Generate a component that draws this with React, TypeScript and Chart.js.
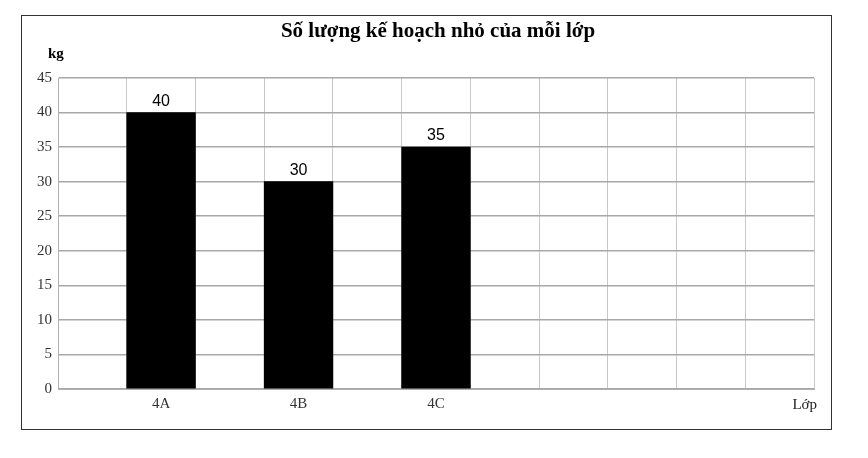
import React, { useEffect, useRef } from 'react';
import { Chart, registerables } from 'chart.js';

Chart.register(...registerables);

// Category slots along the x axis (the chart has empty slots between classes)
const slots: string[] = ['', '4A', '', '4B', '', '4C', '', '', '', '', ''];
const values: (number | null)[] = [null, 40, null, 30, null, 35, null, null, null, null, null];
const yMin = 0;
const yMax = 45;
const yStep = 5;
const chartTitle = 'Số lượng kế hoạch nhỏ của mỗi lớp';
const yUnit = 'kg';
const xUnit = 'Lớp';

const SERIF = '"Liberation Serif", "DejaVu Serif", serif';
const SANS = '"Liberation Sans", Arial, sans-serif';

const overlay = {
  id: 'overlay',
  afterDraw(chart: any) {
    const { ctx, chartArea } = chart;
    ctx.save();
    // title
    ctx.fillStyle = '#000';
    ctx.font = `bold 21px ${SERIF}`;
    ctx.textAlign = 'center';
    ctx.textBaseline = 'alphabetic';
    ctx.fillText(chartTitle, 438, 37);
    // y unit
    ctx.font = `bold 15px ${SERIF}`;
    ctx.textAlign = 'left';
    ctx.fillText(yUnit, 48, 58);
    // x unit
    ctx.font = `15px ${SERIF}`;
    ctx.textAlign = 'right';
    ctx.fillStyle = '#222';
    ctx.fillText(xUnit, chartArea.right + 3, chartArea.bottom + 20);
    // value labels
    const meta = chart.getDatasetMeta(0);
    ctx.font = `16px ${SANS}`;
    ctx.fillStyle = '#000';
    ctx.textAlign = 'center';
    meta.data.forEach((el: any, i: number) => {
      const v = values[i];
      if (v == null) return;
      ctx.fillText(String(v), el.x, el.y - 7);
    });
    ctx.restore();
  },
};

export default function App() {
  const ref = useRef<HTMLCanvasElement>(null);
  useEffect(() => {
    if (!ref.current) return;
    const chart = new Chart(ref.current, {
      type: 'bar',
      data: {
        labels: slots,
        datasets: [
          {
            data: values as any,
            backgroundColor: '#000',
            borderWidth: 0,
            barPercentage: 1,
            categoryPercentage: 1,
          },
        ],
      },
      options: {
        animation: false,
        responsive: false,
        devicePixelRatio: 1,
        layout: { padding: { left: 22, right: 54, top: 78, bottom: 39 } },
        plugins: {
          legend: { display: false },
          title: { display: false },
          tooltip: { enabled: false },
        },
        scales: {
          x: {
            offset: true,
            grid: { offset: true, color: '#c8c8c8', lineWidth: 1, drawTicks: false },
            border: { color: '#b0b0b0', width: 1 },
            ticks: {
              color: '#333',
              font: { family: SERIF, size: 15 },
              padding: 6,
              autoSkip: false,
              maxRotation: 0,
            },
            afterFit: (s: any) => {
              s.height = 30;
            },
          },
          y: {
            min: yMin,
            max: yMax,
            grid: { color: '#a8a8a8', lineWidth: 1.5, drawTicks: false },
            border: { color: '#b0b0b0', width: 1 },
            ticks: {
              stepSize: yStep,
              color: '#333',
              font: { family: SERIF, size: 15 },
              padding: 6,
            },
            afterFit: (s: any) => {
              s.width = 36;
            },
          },
        },
      },
      plugins: [overlay],
    });
    return () => chart.destroy();
  }, []);

  return (
    <div style={{ position: 'absolute', left: 0, top: 0, width: 868, height: 458, background: '#fff' }}>
      <div
        style={{
          position: 'absolute',
          left: 21,
          top: 15,
          width: 809,
          height: 413,
          border: '1.5px solid #333',
        }}
      />
      <canvas ref={ref} width={868} height={458} style={{ position: 'absolute', left: 0, top: 0 }} />
    </div>
  );
}
